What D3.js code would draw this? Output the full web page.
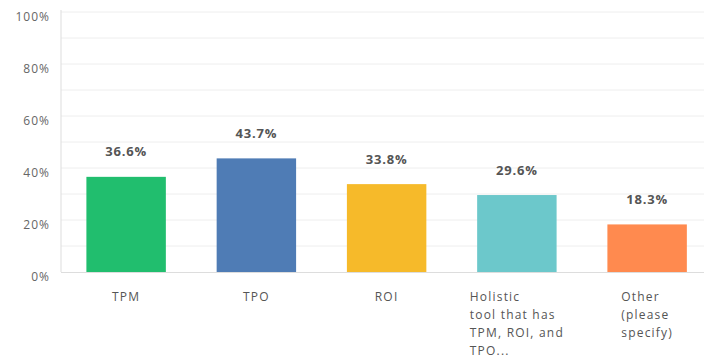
<!DOCTYPE html>
<html>
<head>
<meta charset="utf-8">
<script src="https://cdn.jsdelivr.net/npm/d3@7"></script>
<style>
  body { margin: 0; background: #fff; }
  svg { display: block; font-family: "Open Sans", sans-serif; }
</style>
</head>
<body>
<svg width="704" height="359"></svg>
<script>
// Chart data
const categories = ["TPM", "TPO", "ROI", "Holistic tool that has TPM, ROI, and TPO...", "Other (please specify)"];
const labelLines = [["TPM"], ["TPO"], ["ROI"], ["Holistic", "tool that has", "TPM, ROI, and", "TPO..."], ["Other", "(please", "specify)"]];
const values = [36.6, 43.7, 33.8, 29.6, 18.3];
const colors = ["#21be6e", "#4f7cb5", "#f6ba2a", "#6cc8cb", "#ff8a4f"];
const yTicks = [0, 20, 40, 60, 80, 100];
const gridTicks = [10, 20, 30, 40, 50, 60, 70, 80, 90, 100];

const svg = d3.select("svg");
const width = +svg.attr("width");

const plotLeft = 61, plotTop = 12, plotBottom = 272;

const x = d3.scaleBand()
    .domain(categories)
    .range([plotLeft, plotLeft + 130.25 * categories.length])
    .paddingInner(0.39)
    .paddingOuter(0.195);

const y = d3.scaleLinear().domain([0, 100]).range([plotBottom, plotTop]);

// Gridlines
svg.append("g")
    .selectAll("line")
    .data(gridTicks)
    .enter()
    .append("line")
    .attr("x1", plotLeft)
    .attr("x2", width)
    .attr("y1", d => y(d))
    .attr("y2", d => y(d))
    .attr("stroke", "#eeeeee")
    .attr("stroke-width", 1);

// Y axis labels (sit a little below their gridline)
svg.append("g")
    .selectAll("text")
    .data(yTicks)
    .enter()
    .append("text")
    .attr("x", 50)
    .attr("y", d => y(d) + 6)
    .attr("dominant-baseline", "middle")
    .attr("text-anchor", "end")
    .attr("fill", "#666")
    .attr("font-size", 12)
    .attr("letter-spacing", 1)
    .text(d => d + "%");

// Bars
svg.append("g")
    .selectAll("rect")
    .data(values)
    .enter()
    .append("rect")
    .attr("x", (d, i) => x(categories[i]))
    .attr("y", d => y(d))
    .attr("width", x.bandwidth())
    .attr("height", d => plotBottom - y(d))
    .attr("fill", (d, i) => colors[i]);

// Axis lines
svg.append("line")
    .attr("x1", plotLeft).attr("x2", plotLeft)
    .attr("y1", plotTop - 2).attr("y2", plotBottom)
    .attr("stroke", "#dddddd");
svg.append("line")
    .attr("x1", plotLeft).attr("x2", width)
    .attr("y1", plotBottom + 0.5).attr("y2", plotBottom + 0.5)
    .attr("stroke", "#dddddd");

// Value labels
svg.append("g")
    .selectAll("text")
    .data(values)
    .enter()
    .append("text")
    .attr("x", (d, i) => x(categories[i]) + x.bandwidth() / 2)
    .attr("y", d => y(d) - 24)
    .attr("dominant-baseline", "middle")
    .attr("text-anchor", "middle")
    .attr("fill", "#555")
    .attr("font-size", 13)
    .attr("font-weight", "bold")
    .attr("letter-spacing", 0.8)
    .text(d => d.toFixed(1) + "%");

// Category labels: left-aligned block, centred under each bar
const catG = svg.append("g");
labelLines.forEach((lines, i) => {
    const t = catG.append("text")
        .attr("fill", "#555")
        .attr("font-size", 12)
        .attr("letter-spacing", 1.2);
    lines.forEach((line, j) => {
        t.append("tspan")
            .attr("y", 298 + j * 18)
            .attr("dominant-baseline", "middle")
            .text(line);
    });
    let maxW = 0;
    t.selectAll("tspan").each(function () {
        maxW = Math.max(maxW, this.getComputedTextLength());
    });
    const cx = x(categories[i]) + x.bandwidth() / 2;
    t.selectAll("tspan").attr("x", cx - maxW / 2);
});
</script>
</body>
</html>
